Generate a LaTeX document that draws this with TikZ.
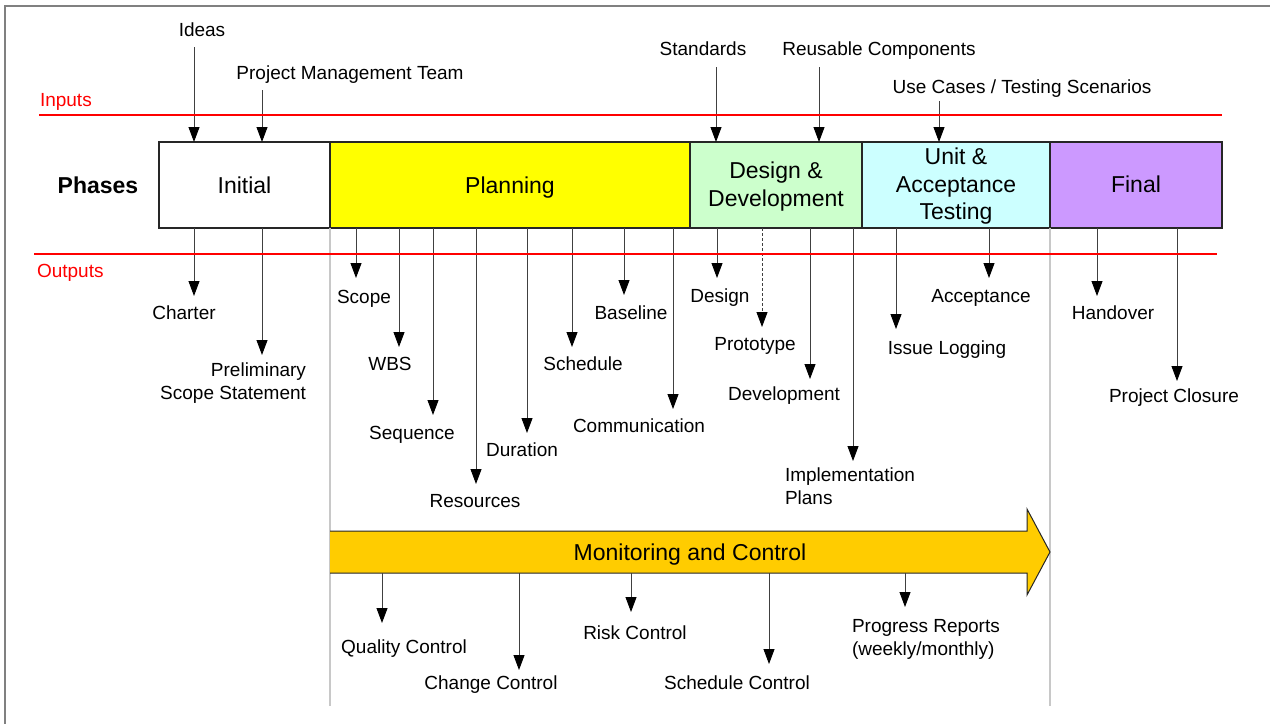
\documentclass[tikz,border=0pt]{standalone}
\usepackage{fontspec}
\setmainfont{Liberation Sans}
\usetikzlibrary{arrows.meta}
\definecolor{planyellow}{HTML}{FFFF00}
\definecolor{designgreen}{HTML}{CCFFCC}
\definecolor{testcyan}{HTML}{CCFFFF}
\definecolor{finalviolet}{HTML}{CC99FF}
\definecolor{mcgold}{HTML}{FFCC00}
\definecolor{framegray}{HTML}{808080}
\definecolor{sepgray}{HTML}{C8C8C8}
\definecolor{rulered}{HTML}{FF0000}
\begin{document}
\begin{tikzpicture}[x=1pt,y=-1pt,
  lab/.style={font=\fontsize{19}{23}\selectfont, inner sep=0pt, outer sep=0pt, anchor=base},
  redlab/.style={lab, text=rulered, anchor=base west},
  phasebox/.style={draw=black!85, line width=1.3pt, minimum height=86pt, inner sep=0pt,
    outer sep=0pt, font=\fontsize{23}{27.5}\selectfont, align=center},
  phasetext/.style={font=\fontsize{23}{27.5}\selectfont, align=center, inner sep=0pt},
  arr/.style={draw=black!75, line width=0.9pt, -{Triangle[length=15pt,width=11pt,color=black]}},
  dasharr/.style={arr, dash pattern=on 3pt off 2pt},
  redline/.style={draw=rulered, line width=1.2pt},
  sepline/.style={draw=sepgray, line width=1.4pt}]

\useasboundingbox (0,0) rectangle (1270,724);

% frame
\draw[framegray, line width=2pt] (1270,6) -- (5,6) -- (5,724);

% row captions
\node[redlab] (inlab)  at (40,106) {Inputs};
\node[redlab] (outlab) at (37,277) {Outputs};
\node[font=\fontsize{23}{27}\bfseries, inner sep=0pt] (phases) at (98,185) {Phases};

% phase boxes
\node[phasebox, minimum width=171pt]                   (initial)  at (244.5,185) {};
\node[phasebox, minimum width=360pt, fill=planyellow]  (planning) at (510,185) {};
\node[phasebox, minimum width=172pt, fill=designgreen] (design)   at (776,185) {};
\node[phasebox, minimum width=188pt, fill=testcyan]    (unit)     at (956,185) {};
\node[phasebox, minimum width=172pt, fill=finalviolet] (final)    at (1136,185) {};

% phase names
\node[phasetext, text depth=0pt] at (initial)  {Initial};
\node[phasetext, text depth=0pt] at (planning) {Planning};
\node[phasetext] at ([yshift=-1.5pt]design.center) {Design \&\\Development};
\node[phasetext] at ([yshift=-1.5pt]unit.center)   {Unit \&\\Acceptance\\Testing};
\node[phasetext, text depth=0pt] at ([yshift=1pt]final.center) {Final};

% light separators below the phase row
\draw[sepline] (planning.south west) -- (330,706);
\draw[sepline] (final.south west) -- (1050,706);

% inputs
\node[lab] (ideas)   at (202,36) {Ideas};
\node[lab] (pmt)     at (350,79) {Project Management Team};
\node[lab] (std)     at (703,55) {Standards};
\node[lab] (reuse)   at (879,55) {Reusable Components};
\node[lab] (usecase) at (1022,93) {Use Cases / Testing Scenarios};

\coordinate (sIdeas) at (194,47);
\coordinate (sPmt)   at (262,90);
\coordinate (sStd)   at (716,67);
\coordinate (sReuse) at (819,67);
\coordinate (sUse)   at (939,101);
\draw[arr] (sIdeas) -- (initial.north -| sIdeas);
\draw[arr] (sPmt)   -- (initial.north -| sPmt);
\draw[arr] (sStd)   -- (design.north -| sStd);
\draw[arr] (sReuse) -- (design.north -| sReuse);
\draw[arr] (sUse)   -- (unit.north -| sUse);

% outputs: labels
\node[lab] (charter) at (184,319) {Charter};
\node[lab, anchor=north east, align=right] (prelim) at (306,363) {Preliminary\\Scope Statement};
\node[lab] (scope)   at (364,303) {Scope};
\node[lab] (wbs)     at (390,370) {WBS};
\node[lab] (seq)     at (412,439) {Sequence};
\node[lab] (res)     at (475,507) {Resources};
\node[lab] (dur)     at (522,456) {Duration};
\node[lab] (sched)   at (583,370) {Schedule};
\node[lab] (base)    at (631,319) {Baseline};
\node[lab] (comm)    at (639,432) {Communication};
\node[lab] (dsg)     at (720,302) {Design};
\node[lab] (proto)   at (755,350) {Prototype};
\node[lab] (devel)   at (784,400) {Development};
\node[lab, anchor=north west, align=left, font=\fontsize{19}{22.5}\selectfont] (impl) at (785,468) {Implementation\\Plans};
\node[lab] (issue)   at (947,354) {Issue Logging};
\node[lab] (accept)  at (981,302) {Acceptance};
\node[lab] (hand)    at (1113,319) {Handover};
\node[lab] (closure) at (1174,402) {Project Closure};

% outputs: arrow tips
\coordinate (tCharter) at (194,296);
\coordinate (tPrelim)  at (262,355);
\coordinate (tScope)   at (356,278);
\coordinate (tWbs)     at (399,347);
\coordinate (tSeq)     at (433,415);
\coordinate (tRes)     at (476,484);
\coordinate (tDur)     at (527,433);
\coordinate (tSched)   at (572,347);
\coordinate (tBase)    at (624,295);
\coordinate (tComm)    at (673,409);
\coordinate (tDsg)     at (717,278);
\coordinate (tProto)   at (762,327);
\coordinate (tDevel)   at (810,379);
\coordinate (tImpl)    at (853,461);
\coordinate (tIssue)   at (896,329);
\coordinate (tAccept)  at (989,278);
\coordinate (tHand)    at (1097,296);
\coordinate (tClosure) at (1177,381);

\draw[arr] (initial.south -| tCharter) -- (tCharter);
\draw[arr] (initial.south -| tPrelim)  -- (tPrelim);
\draw[arr] (planning.south -| tScope)  -- (tScope);
\draw[arr] (planning.south -| tWbs)    -- (tWbs);
\draw[arr] (planning.south -| tSeq)    -- (tSeq);
\draw[arr] (planning.south -| tRes)    -- (tRes);
\draw[arr] (planning.south -| tDur)    -- (tDur);
\draw[arr] (planning.south -| tSched)  -- (tSched);
\draw[arr] (planning.south -| tBase)   -- (tBase);
\draw[arr] (planning.south -| tComm)   -- (tComm);
\draw[arr] (design.south -| tDsg)      -- (tDsg);
\draw[dasharr] (design.south -| tProto) -- (tProto);
\draw[arr] (design.south -| tDevel)    -- (tDevel);
\draw[arr] (design.south -| tImpl)     -- (tImpl);
\draw[arr] (unit.south -| tIssue)      -- (tIssue);
\draw[arr] (unit.south -| tAccept)     -- (tAccept);
\draw[arr] (final.south -| tHand)      -- (tHand);
\draw[arr] (final.south -| tClosure)   -- (tClosure);

% input / output rules, over the arrow shafts
\draw[redline] (39,115) -- (1222,115);
\draw[redline] (34,254) -- (1217,254);

% monitoring and control band
\fill[mcgold] (330,531) -- (1027,531) -- (1027,509) -- (1050,552) -- (1027,595) -- (1027,573) -- (330,573) -- cycle;
\draw[black!85, line width=1pt, line join=miter] (330,531) -- (1027,531) -- (1027,509) -- (1050,552) -- (1027,595) -- (1027,573) -- (330,573);
\node[font=\fontsize{23}{27}\selectfont, inner sep=0pt, text depth=0pt] (mc) at (690,552) {Monitoring and Control};
\coordinate (mcbottom) at (690,573);

\node[lab] (qc) at (404,653) {Quality Control};
\node[lab] (cc) at (491,689) {Change Control};
\node[lab] (rc) at (635,639) {Risk Control};
\node[lab] (sc) at (737,689) {Schedule Control};
\node[lab, anchor=north west, align=left] (pr) at (852,619) {Progress Reports\\(weekly/monthly)};

\coordinate (tQc) at (382,623);
\coordinate (tCc) at (519,670);
\coordinate (tRc) at (631,612);
\coordinate (tSc) at (769,664);
\coordinate (tPr) at (905,607);
\draw[arr] (mcbottom -| tQc) -- (tQc);
\draw[arr] (mcbottom -| tCc) -- (tCc);
\draw[arr] (mcbottom -| tRc) -- (tRc);
\draw[arr] (mcbottom -| tSc) -- (tSc);
\draw[arr] (mcbottom -| tPr) -- (tPr);

\end{tikzpicture}
\end{document}
